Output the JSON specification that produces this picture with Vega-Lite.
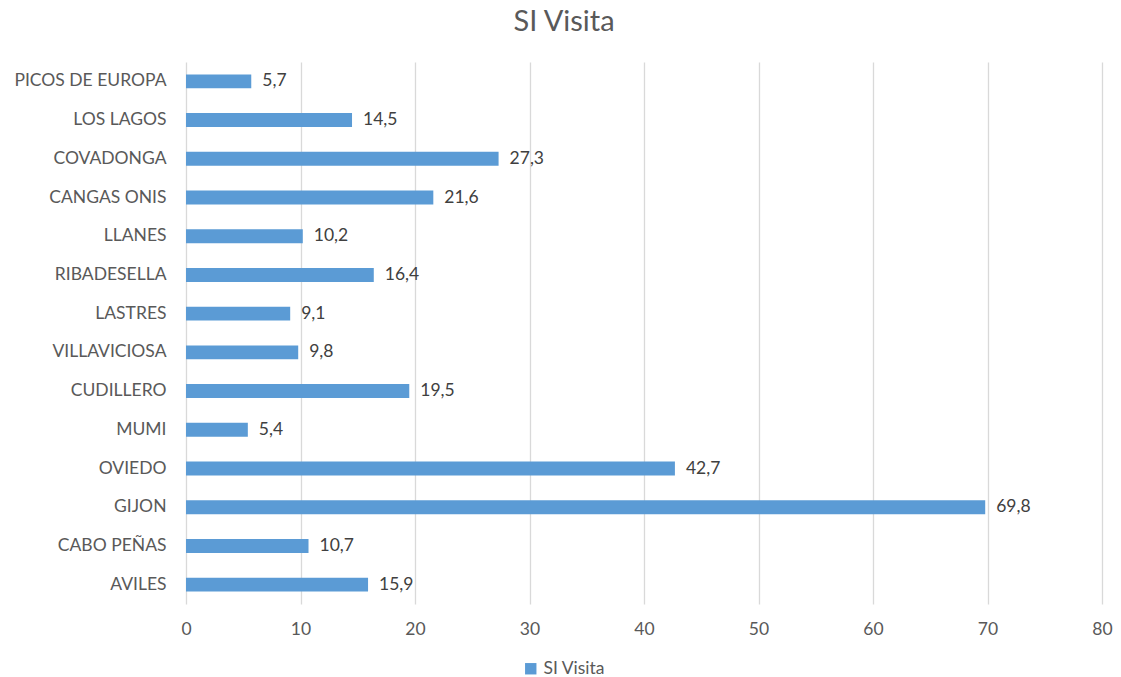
{
  "$schema": "https://vega.github.io/schema/vega-lite/v6.json",
  "autosize": "none",
  "width": 916,
  "height": 542,
  "padding": {"left": 186, "top": 62, "right": 19, "bottom": 73},
  "background": "white",
  "config": {"view": {"stroke": null}, "font": "Lato",
    "locale": {"number": {"decimal": ",", "thousands": ".", "grouping": [3], "currency": ["", " €"]}}},
  "title": {"text": "SI Visita", "fontSize": 29, "font": "Lato", "fontWeight": "normal", "color": "#595959", "anchor": "middle", "dx": -80, "offset": 25},
  "data": {"values": [
    {"lugar": "PICOS DE EUROPA", "v": 5.7, "s": "SI Visita"},
    {"lugar": "LOS LAGOS", "v": 14.5, "s": "SI Visita"},
    {"lugar": "COVADONGA", "v": 27.3, "s": "SI Visita"},
    {"lugar": "CANGAS ONIS", "v": 21.6, "s": "SI Visita"},
    {"lugar": "LLANES", "v": 10.2, "s": "SI Visita"},
    {"lugar": "RIBADESELLA", "v": 16.4, "s": "SI Visita"},
    {"lugar": "LASTRES", "v": 9.1, "s": "SI Visita"},
    {"lugar": "VILLAVICIOSA", "v": 9.8, "s": "SI Visita"},
    {"lugar": "CUDILLERO", "v": 19.5, "s": "SI Visita"},
    {"lugar": "MUMI", "v": 5.4, "s": "SI Visita"},
    {"lugar": "OVIEDO", "v": 42.7, "s": "SI Visita"},
    {"lugar": "GIJON", "v": 69.8, "s": "SI Visita"},
    {"lugar": "CABO PEÑAS", "v": 10.7, "s": "SI Visita"},
    {"lugar": "AVILES", "v": 15.9, "s": "SI Visita"}
  ]},
  "encoding": {
    "y": {"field": "lugar", "type": "nominal", "sort": null, "title": null,
      "scale": {"paddingInner": 0.64, "paddingOuter": 0.32},
      "axis": {"domain": false, "ticks": false, "labelFontSize": 17.5, "labelColor": "#595959", "labelPadding": 20, "labelFont": "Lato"}},
    "x": {"field": "v", "type": "quantitative", "title": null,
      "scale": {"domain": [0, 80]},
      "axis": {"values": [0,10,20,30,40,50,60,70,80], "domain": false, "ticks": false, "labelFlush": false, "gridColor": "#D9D9D9", "gridWidth": 1.3, "labelFontSize": 17.5, "labelColor": "#595959", "labelPadding": 16, "labelFont": "Lato"}}
  },
  "layer": [
    {"mark": {"type": "bar", "color": "#5B9BD5"},
     "encoding": {"color": {"field": "s", "type": "nominal", "scale": {"range": ["#5B9BD5"]},
       "legend": {"title": null, "orient": "none", "legendX": 336, "legendY": 598, "labelFontSize": 17.5, "labelColor": "#595959", "labelFont": "Lato", "symbolType": "square", "symbolSize": 130, "symbolStrokeWidth": 0}}}},
    {"mark": {"type": "text", "align": "left", "dx": 11, "fontSize": 17.5, "color": "#404040", "font": "Lato"},
     "encoding": {"text": {"field": "v", "type": "quantitative", "format": ".1f"}}}
  ]
}
